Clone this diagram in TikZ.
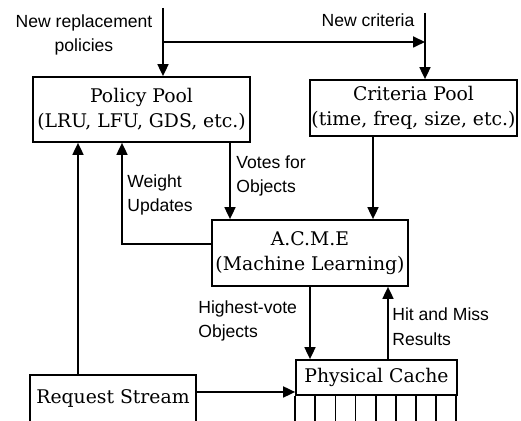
\documentclass[tikz,border=0pt]{standalone}
\usepackage{fontspec}
\setmainfont{DejaVu Serif}
\setsansfont{Liberation Sans}
\usetikzlibrary{arrows.meta}

\tikzset{
  pool/.style={draw, line width=1pt, align=center, inner sep=0pt,
    font=\fontsize{10.7}{14}\selectfont},
  note/.style={align=left, inner sep=0pt,
    font=\sffamily\fontsize{10}{14}\selectfont},
  flow/.style={line width=1pt, -{Triangle[width=0.22cm,length=0.24cm]}},
}

\begin{document}
\begin{tikzpicture}[x=0.02cm, y=-0.02cm]
\clip (0,0) rectangle (521,421);
\fill[white] (0,0) rectangle (521,421);
% Boxes
\node[pool, minimum width=4.34cm, minimum height=1.3cm] (policy) at (141.5,109.5) {Policy Pool\\(LRU, LFU, GDS, etc.)};
\node[pool, minimum width=4.14cm, minimum height=1.12cm] (crit) at (413.5,108) {Criteria Pool\\(time, freq, size, etc.)};
\node[pool, minimum width=3.92cm, minimum height=1.32cm] (acme) at (310,253) {A.C.M.E\\(Machine Learning)};
\node[pool, minimum width=3.32cm, anchor=north, text height=0.57cm, text depth=1cm] (req) at (113,374) {Request Stream};
\node[pool, minimum width=3.22cm, minimum height=0.7cm] (cache) at (376.5,377.5) {Physical Cache};
% Cache cells
\foreach \k in {0,...,8}
  \draw[line width=1pt] ([xshift=\k*0.4025cm]cache.south west) -- ++(0,30);
% Inputs
\coordinate (polin) at (163,8);
\coordinate (critin) at (425,13);
\coordinate (split) at (163,42);
\coordinate (merge) at (425,42);
\draw[flow] (polin) -- (polin |- policy.north);
\draw[flow] (split) -- (merge);
\draw[flow] (critin) -- (critin |- crit.north);
% Flows
\draw[flow] (230,0 |- policy.south) -- (230,0 |- acme.north);
\draw[flow] (acme.west |- 0,244) -| (122,0 |- policy.south);
\draw[flow] (78,0 |- req.north) -- (78,0 |- policy.south);
\draw[flow] (373,0 |- crit.south) -- (373,0 |- acme.north);
\draw[flow] (req.east |- 0,392) -- (cache.west |- 0,392);
\draw[flow] (310,0 |- acme.south) -- (310,0 |- cache.north);
\draw[flow] (388,0 |- cache.north) -- (388,0 |- acme.south);
% Labels
\node[note, align=center] (newpol) at (84,35) {New replacement\\policies};
\node[note] (newcrit) at (368,20) {New criteria};
\node[note, anchor=west] (votes) at (236,176) {Votes for\\Objects};
\node[note, anchor=west] (weight) at (127,195) {Weight\\Updates};
\node[note, anchor=west] (highest) at (198,321) {Highest-vote\\Objects};
\node[note, anchor=west] (hitmiss) at (392,327) {Hit and Miss\\Results};
\end{tikzpicture}
\end{document}
